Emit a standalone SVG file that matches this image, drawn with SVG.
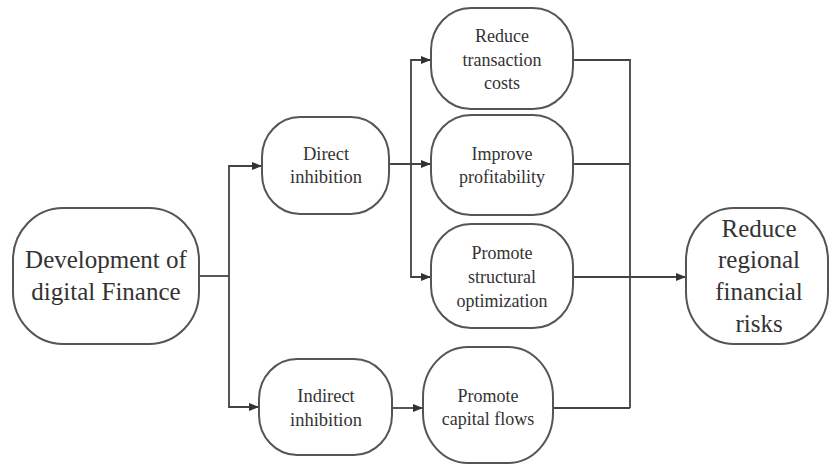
<svg xmlns="http://www.w3.org/2000/svg" width="832" height="465" viewBox="0 0 832 465">
  <defs>
    <marker id="arr" viewBox="0 0 10 8" refX="10" refY="4" markerWidth="10" markerHeight="8" markerUnits="userSpaceOnUse" orient="auto">
      <path d="M0,0 L10,4 L0,8 Z" fill="#333333"/>
    </marker>
  </defs>
  <rect width="832" height="465" fill="#ffffff"/>

  <g id="connectors" fill="none" stroke="#444444" stroke-width="1.8">
    <path d="M199,276 H229"/>
    <path d="M229,276 V166 H262" marker-end="url(#arr)"/>
    <path d="M229,276 V407 H259" marker-end="url(#arr)"/>
    <path d="M389,164 H431" marker-end="url(#arr)"/>
    <path d="M411,164 V60 H431" marker-end="url(#arr)"/>
    <path d="M411,164 V277 H431" marker-end="url(#arr)"/>
    <path d="M392,408 H423" marker-end="url(#arr)"/>
    <path d="M573,60 H630 V408"/>
    <path d="M573,164 H630"/>
    <path d="M553,408 H630"/>
    <path d="M573,277 H686" marker-end="url(#arr)"/>
  </g>

  <g id="dev" style="font-family:'Liberation Serif',Tinos,'Times New Roman',serif" fill="#333333" text-anchor="middle">
    <rect x="13" y="208" width="186" height="136" rx="50" ry="52" fill="#ffffff" stroke="#555555" stroke-width="2"/>
    <text x="106" y="268" font-size="25">Development of</text>
    <text x="106" y="300" font-size="25">digital Finance</text>
  </g>

  <g id="direct" style="font-family:'Liberation Serif',Tinos,'Times New Roman',serif" fill="#333333" text-anchor="middle">
    <rect x="262" y="117" width="127" height="97" rx="38" ry="40" fill="#ffffff" stroke="#555555" stroke-width="2"/>
    <text x="326" y="160" font-size="18.5">Direct</text>
    <text x="326" y="183" font-size="18.5">inhibition</text>
  </g>

  <g id="indirect" style="font-family:'Liberation Serif',Tinos,'Times New Roman',serif" fill="#333333" text-anchor="middle">
    <rect x="259" y="359" width="133" height="96" rx="38" ry="40" fill="#ffffff" stroke="#555555" stroke-width="2"/>
    <text x="326" y="402" font-size="18.5">Indirect</text>
    <text x="326" y="426" font-size="18.5">inhibition</text>
  </g>

  <g id="rtc" style="font-family:'Liberation Serif',Tinos,'Times New Roman',serif" fill="#333333" text-anchor="middle">
    <rect x="431" y="8" width="142" height="101" rx="40" ry="42" fill="#ffffff" stroke="#555555" stroke-width="2"/>
    <text x="502" y="42" font-size="18">Reduce</text>
    <text x="502" y="66" font-size="18">transaction</text>
    <text x="502" y="89" font-size="18">costs</text>
  </g>

  <g id="ip" style="font-family:'Liberation Serif',Tinos,'Times New Roman',serif" fill="#333333" text-anchor="middle">
    <rect x="431" y="115" width="142" height="100" rx="40" ry="42" fill="#ffffff" stroke="#555555" stroke-width="2"/>
    <text x="502" y="160" font-size="18">Improve</text>
    <text x="502" y="183" font-size="18">profitability</text>
  </g>

  <g id="pso" style="font-family:'Liberation Serif',Tinos,'Times New Roman',serif" fill="#333333" text-anchor="middle">
    <rect x="431" y="224" width="142" height="104" rx="40" ry="42" fill="#ffffff" stroke="#555555" stroke-width="2"/>
    <text x="502" y="259" font-size="18">Promote</text>
    <text x="502" y="283" font-size="18">structural</text>
    <text x="502" y="307" font-size="18">optimization</text>
  </g>

  <g id="pcf" style="font-family:'Liberation Serif',Tinos,'Times New Roman',serif" fill="#333333" text-anchor="middle">
    <rect x="423" y="347" width="130" height="116" rx="45" ry="50" fill="#ffffff" stroke="#555555" stroke-width="2"/>
    <text x="488" y="402" font-size="18">Promote</text>
    <text x="488" y="425" font-size="18">capital flows</text>
  </g>

  <g id="rrfr" style="font-family:'Liberation Serif',Tinos,'Times New Roman',serif" fill="#333333" text-anchor="middle">
    <rect x="686" y="208" width="142" height="136" rx="48" ry="52" fill="#ffffff" stroke="#555555" stroke-width="2"/>
    <text x="759" y="237" font-size="25">Reduce</text>
    <text x="759" y="268" font-size="25">regional</text>
    <text x="759" y="300" font-size="25">financial</text>
    <text x="759" y="332" font-size="25">risks</text>
  </g>
</svg>
